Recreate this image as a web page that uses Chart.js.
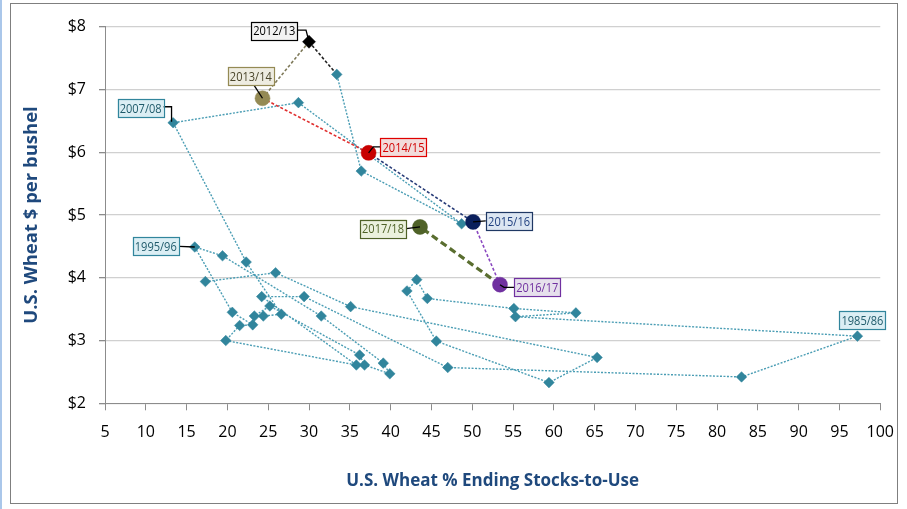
<!DOCTYPE html>
<html><head><meta charset="utf-8">
<script src="https://cdn.jsdelivr.net/npm/chart.js@4.4.1/dist/chart.umd.min.js"></script>
<style>html,body{margin:0;padding:0;background:#fff;overflow:hidden}canvas{display:block}</style>
</head><body>
<canvas id="c" width="907" height="509"></canvas>
<script>
// ---- data ----
const years = ['1973/74','1974/75','1975/76','1976/77','1977/78','1978/79','1979/80','1980/81','1981/82','1982/83','1983/84','1984/85',
  '1985/86','1986/87','1987/88','1988/89','1989/90','1990/91','1991/92','1992/93','1993/94','1994/95','1995/96','1996/97','1997/98',
  '1998/99','1999/00','2000/01','2001/02','2002/03','2003/04','2004/05','2005/06','2006/07','2007/08','2008/09','2009/10','2010/11',
  '2011/12','2012/13','2013/14','2014/15','2015/16','2016/17','2017/18'];
const stocksToUse = [17.3,25.9,35.1,65.3,59.4,45.6,42.0,43.2,44.5,55.1,62.7,55.3,
  97.2,83.0,47.0,29.4,24.2,35.8,19.8,21.5,23.1,20.6,16.0,19.4,31.5,
  39.1,39.9,36.8,36.2,25.2,23.3,24.4,26.6,22.3,13.35,28.7,48.7,36.4,
  33.4,30.0,24.3,37.3,50.1,53.4,43.6];
const prices = [3.94,4.08,3.54,2.73,2.33,2.99,3.79,3.97,3.67,3.51,3.44,3.38,
  3.07,2.42,2.57,3.70,3.70,2.61,3.00,3.24,3.25,3.45,4.49,4.35,3.39,
  2.64,2.47,2.61,2.77,3.55,3.39,3.39,3.42,4.25,6.47,6.79,4.86,5.70,
  7.24,7.76,6.86,5.99,4.89,3.89,4.81];
const xTicks = [5,10,15,20,25,30,35,40,45,50,55,60,65,70,75,80,85,90,95,100];
const yTicks = [2,3,4,5,6,7,8];
const yTickLabels = ['$2','$3','$4','$5','$6','$7','$8'];
const xTitle = 'U.S. Wheat % Ending Stocks-to-Use';
const yTitle = 'U.S. Wheat $ per bushel';

// ---- styles ----
const FONT = "'Open Sans',sans-serif";
const TEAL = '#31859C', TEAL_LINE = '#4A9DB4';
const highlight = {
  '2012/13': {shape:'rectRot', r:6.5, color:'#000000', line:'#222222', dash:[3,2], w:1.6},
  '2013/14': {shape:'circle', r:7.5, color:'#948A54', line:'#7F7A5A', dash:[3,2], w:1.6},
  '2014/15': {shape:'circle', r:7.5, color:'#C80000', line:'#E03030', dash:[3,2], w:1.6},
  '2015/16': {shape:'circle', r:7.5, color:'#0A1F5C', line:'#283C78', dash:[3,2], w:1.6},
  '2016/17': {shape:'circle', r:7.5, color:'#7030A0', line:'#8A48C0', dash:[3,2], w:1.6},
  '2017/18': {shape:'circle', r:7.5, color:'#4F6228', line:'#5A6E30', dash:[7,4], w:3.2}
};
const tealBox = {border:TEAL, fill:'#DBEEF4', text:'#1F5A6A'};
const labels = {
  '2012/13': {dx:-34.8, dy:-11.2, border:'#000000', fill:'#F2F2F2', text:'#000000', leader:[[-12,-11.7],[-3,-11.7],[0,0]]},
  '2013/14': {dx:-11.7, dy:-22.3, border:'#948A54', fill:'#EEECE1', text:'#4A452A', leader:[[-8.7,-13.3],[0,0]]},
  '2007/08': {dx:-32.5, dy:-14.4, ...tealBox, leader:[[-10,-16],[-1.6,-16],[-1.6,-1]]},
  '2014/15': {dx:34.9, dy:-6, border:'#E00000', fill:'#F2DCDB', text:'#D00000', leader:[[12.4,-6],[4.7,-6],[0,0]]},
  '2015/16': {dx:36, dy:-1, border:'#1F3864', fill:'#DCE6F2', text:'#1F3F7F', leader:[[12.7,-1],[0,0]]},
  '2016/17': {dx:37.3, dy:2, border:'#7030A0', fill:'#E6E0EC', text:'#7030A0', leader:[[14.3,2.7],[4,2.7],[0,0]]},
  '2017/18': {dx:-37, dy:1.6, border:'#4F6228', fill:'#EBF1DE', text:'#4F6228', leader:[[-13.7,1.6],[0,0]]},
  '1995/96': {dx:-39, dy:-0.7, ...tealBox, leader:[[-15.7,-0.7],[0,0]]},
  '1985/86': {dx:5, dy:-16.3, ...tealBox, leader:null}
};

const points = years.map((yr,i)=>({x:stocksToUse[i], y:prices[i]}));
const hl = i => highlight[years[i]];

const frame = {
  id:'frame',
  beforeDraw(chart){
    const c = chart.ctx; c.save();
    c.fillStyle='#fff'; c.fillRect(0,0,chart.width,chart.height);
    c.strokeStyle='#8EB4E3'; c.lineWidth=1.5; c.beginPath(); c.moveTo(1,0); c.lineTo(1,chart.height); c.stroke();
    c.strokeStyle='#7F7F7F'; c.lineWidth=1; c.strokeRect(10.5,3.5,887,500);
    c.restore();
  }
};

const annot = {
  id:'annot',
  afterDatasetsDraw(chart){
    const c = chart.ctx, xs = chart.scales.x, ys = chart.scales.y;
    c.save();
    years.forEach((yr,i)=>{
      const L = labels[yr]; if(!L) return;
      const px = xs.getPixelForValue(stocksToUse[i]), py = ys.getPixelForValue(prices[i]);
      if (L.leader){
        c.beginPath(); c.strokeStyle='#000'; c.lineWidth=1.3;
        L.leader.forEach(([dx,dy],k)=>{ k? c.lineTo(px+dx,py+dy) : c.moveTo(px+dx,py+dy); });
        c.stroke();
      }
      const w=46, h=18, cx=px+L.dx, cy=py+L.dy;
      c.fillStyle=L.fill; c.fillRect(cx-w/2,cy-h/2,w,h);
      c.strokeStyle=L.border; c.lineWidth=1.2; c.strokeRect(Math.round(cx-w/2)+0.5,Math.round(cy-h/2)+0.5,w,h);
      c.fillStyle=L.text; c.font='13.5px '+FONT; c.textAlign='center'; c.textBaseline='middle';
      c.fillText(yr,cx,cy+1,42);
    });
    c.restore();
  }
};

new Chart(document.getElementById('c'), {
  type:'scatter',
  data:{ datasets:[{
    data: points,
    showLine:true,
    borderColor: TEAL_LINE,
    borderWidth: 1.4,
    borderDash:[2,1.5],
    pointStyle: ctx => (hl(ctx.dataIndex)||{}).shape || 'rectRot',
    pointRadius: ctx => (hl(ctx.dataIndex)||{}).r || 5.3,
    pointBackgroundColor: ctx => (hl(ctx.dataIndex)||{}).color || TEAL,
    pointBorderColor: ctx => (hl(ctx.dataIndex)||{}).color || TEAL,
    pointBorderWidth: 0.5,
    segment:{
      borderColor: ctx => (hl(ctx.p1DataIndex)||{}).line || TEAL_LINE,
      borderDash: ctx => (hl(ctx.p1DataIndex)||{}).dash || [2,1.5],
      borderWidth: ctx => (hl(ctx.p1DataIndex)||{}).w || 1.4
    }
  }]},
  options:{
    responsive:false, animation:false, devicePixelRatio:1,
    layout:{padding:{top:26.7, right:24.3, left:0, bottom:0}},
    plugins:{legend:{display:false}, tooltip:{enabled:false}},
    scales:{
      x:{
        type:'linear', min:5, max:100,
        afterFit(s){ s.height = 105.7; },
        afterBuildTicks(s){ s.ticks = xTicks.map(v=>({value:v})); },
        ticks:{ color:'#000', font:{family:FONT, size:16}, padding:13, maxRotation:0, autoSkip:false },
        grid:{ drawOnChartArea:false, drawTicks:true, tickLength:7, color:'#8C8C8C' },
        border:{ display:true, color:'#8C8C8C', width:1 },
        title:{ display:true, text:xTitle, color:'#1F497D', font:{family:FONT, size:17, weight:'bold'}, padding:{top:0,bottom:18} }
      },
      y:{
        type:'linear', min:2, max:8,
        afterFit(s){ s.width = 105; },
        afterBuildTicks(s){ s.ticks = yTicks.map(v=>({value:v})); },
        ticks:{ color:'#000', font:{family:FONT, size:16}, padding:13,
          callback:(v)=> yTickLabels[yTicks.indexOf(v)] },
        grid:{ drawOnChartArea:true, drawTicks:true, tickLength:6, color:'#D0D0D0', tickColor:'#8C8C8C', lineWidth:1.3 },
        border:{ display:true, color:'#8C8C8C', width:1 },
        title:{ display:true, text:yTitle, color:'#1F497D', font:{family:FONT, size:18.5, weight:'bold'}, padding:{top:21,bottom:0} }
      }
    }
  },
  plugins:[frame, annot]
});
</script>
</body></html>
